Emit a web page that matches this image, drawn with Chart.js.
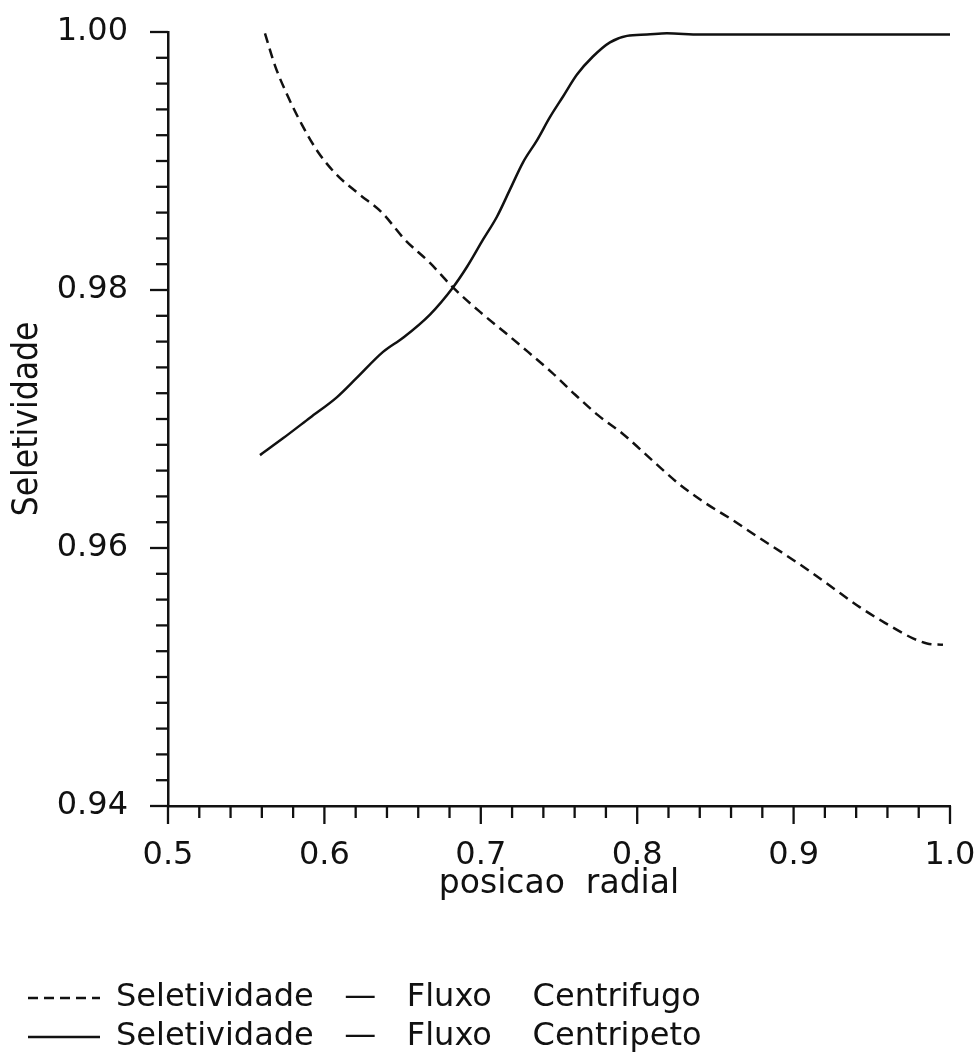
<!DOCTYPE html>
<html>
<head>
<meta charset="utf-8">
<script src="https://cdn.jsdelivr.net/npm/chart.js@4.4.1/dist/chart.umd.min.js"></script>
<style>
  html, body { margin: 0; padding: 0; background: #fff; }
  #chart { display: block; }
</style>
</head>
<body>
<canvas id="chart" width="977" height="1055"></canvas>
<script>
// posicao radial (x) e seletividade (y) de cada curva
const radialCentrifugo = [
  0.562, 0.5684, 0.5767, 0.5857, 0.5959, 0.6081, 0.6215, 0.6368, 0.6515, 0.6675,
  0.6822, 0.6995, 0.7155, 0.7302, 0.7455, 0.7602, 0.7749, 0.7903, 0.8114, 0.8274,
  0.8434, 0.8606, 0.8766, 0.8932, 0.9092, 0.9252, 0.9425, 0.9584, 0.9763, 0.9853, 0.9955,
];
const seletCentrifugo = [
  0.9999, 0.9974, 0.9950, 0.9928, 0.9907, 0.9889, 0.9875, 0.9860, 0.9839, 0.9821,
  0.9802, 0.9783, 0.9767, 0.9752, 0.9736, 0.9719, 0.9703, 0.9689, 0.9666, 0.9649,
  0.9635, 0.9622, 0.9609, 0.9596, 0.9583, 0.9569, 0.9554, 0.9542, 0.9530, 0.9526, 0.9525,
];

const radialCentripeto = [
  0.5588, 0.5735, 0.5908, 0.6081, 0.6208, 0.6375, 0.6503, 0.6675, 0.6822, 0.6912,
  0.7014, 0.7104, 0.7187, 0.7270, 0.7359, 0.7442, 0.7526, 0.7615, 0.7717, 0.7826,
  0.7935, 0.8063, 0.8190, 0.8402, 1.0,
];
const seletCentripeto = [
  0.9672, 0.9685, 0.9701, 0.9717, 0.9732, 0.9752, 0.9763, 0.9781, 0.9802, 0.9818,
  0.9839, 0.9857, 0.9878, 0.9899, 0.9916, 0.9934, 0.9950, 0.9967, 0.9981, 0.9992,
  0.9997, 0.9998, 0.9999, 0.9998, 0.9998,
];

const seriesLabels = [
  "Seletividade   \u2014   Fluxo    Centrifugo",
  "Seletividade   \u2014   Fluxo    Centripeto",
];

const ink = "#111";
const family = '"DejaVu Sans", sans-serif';
const narrowFamily = '"DejaVu Sans Condensed", "DejaVu Sans", sans-serif';

function toPoints(xs, ys) {
  return xs.map((x, i) => ({ x: x, y: ys[i] }));
}

function isMajor(v, step) {
  const r = v / step;
  return Math.abs(r - Math.round(r)) < 1e-6;
}

// tick marks drawn outward, long ones at labelled values
const tickMarks = {
  id: "tickMarks",
  afterDraw(chart) {
    const ctx = chart.ctx;
    const xs = chart.scales.x;
    const ys = chart.scales.y;
    ctx.save();
    ctx.strokeStyle = ink;
    ctx.lineWidth = 2.3;
    ys.ticks.forEach((t) => {
      const py = ys.getPixelForValue(t.value);
      const len = isMajor(t.value, 0.02) ? 18 : 12;
      ctx.beginPath();
      ctx.moveTo(ys.right - len, py);
      ctx.lineTo(ys.right, py);
      ctx.stroke();
    });
    xs.ticks.forEach((t) => {
      const px = xs.getPixelForValue(t.value);
      const len = isMajor(t.value, 0.1) ? 18 : 12;
      ctx.beginPath();
      ctx.moveTo(px, xs.top);
      ctx.lineTo(px, xs.top + len);
      ctx.stroke();
    });
    ctx.restore();
  },
};

// legend line samples keep the dataset dash pattern
function legendLabels(chart) {
  const items = Chart.defaults.plugins.legend.labels.generateLabels(chart);
  return items.map((item) => {
    const ds = chart.data.datasets[item.datasetIndex];
    item.lineDash = ds.borderDash || [];
    item.pointStyle = "line";
    item.lineWidth = ds.borderWidth;
    item.strokeStyle = ds.borderColor;
    return item;
  });
}

Chart.defaults.color = ink;
Chart.defaults.font.family = family;

new Chart(document.getElementById("chart"), {
  type: "line",
  data: {
    datasets: [
      {
        label: seriesLabels[0],
        data: toPoints(radialCentrifugo, seletCentrifugo),
        borderColor: ink,
        backgroundColor: ink,
        borderWidth: 2.5,
        borderDash: [10, 6],
        pointRadius: 0,
        cubicInterpolationMode: "monotone",
      },
      {
        label: seriesLabels[1],
        data: toPoints(radialCentripeto, seletCentripeto),
        borderColor: ink,
        backgroundColor: ink,
        borderWidth: 2.5,
        pointRadius: 0,
        cubicInterpolationMode: "monotone",
      },
    ],
  },
  options: {
    responsive: false,
    animation: false,
    devicePixelRatio: 1,
    layout: { padding: { left: 21, right: 27, top: 32, bottom: -8 } },
    scales: {
      x: {
        type: "linear",
        min: 0.5,
        max: 1.0,
        grid: { display: false },
        border: { display: true, color: ink, width: 2.5 },
        ticks: {
          stepSize: 0.02,
          autoSkip: false,
          maxRotation: 0,
          padding: 22,
          color: ink,
          font: { size: 32 },
          callback: (v) => (isMajor(v, 0.1) ? v.toFixed(1) : ""),
        },
        title: {
          display: true,
          text: "posicao  radial",
          color: ink,
          font: { size: 33 },
          padding: { top: 0, bottom: 71 },
        },
        afterFit: (scale) => {
          scale.height = 169;
          scale.paddingLeft = 0;
          scale.paddingRight = 0;
        },
      },
      y: {
        type: "linear",
        min: 0.94,
        max: 1.0,
        grid: { display: false },
        border: { display: true, color: ink, width: 2.5 },
        ticks: {
          stepSize: 0.002,
          autoSkip: false,
          padding: 32,
          color: ink,
          font: { size: 32 },
          callback: (v) => (isMajor(v, 0.02) ? v.toFixed(2) : ""),
        },
        title: {
          display: true,
          text: "Seletividade",
          color: ink,
          font: { size: 35, family: narrowFamily },
          padding: { top: -14, bottom: 0 },
        },
        afterFit: (scale) => {
          scale.width = 147;
          scale.paddingTop = 0;
          scale.paddingBottom = 0;
        },
      },
    },
    plugins: {
      legend: {
        position: "bottom",
        align: "start",
        labels: {
          color: ink,
          font: { size: 32 },
          padding: 7,
          usePointStyle: true,
          pointStyleWidth: 72,
          generateLabels: legendLabels,
        },
      },
      tooltip: { enabled: false },
    },
  },
  plugins: [tickMarks],
});
</script>
</body>
</html>
